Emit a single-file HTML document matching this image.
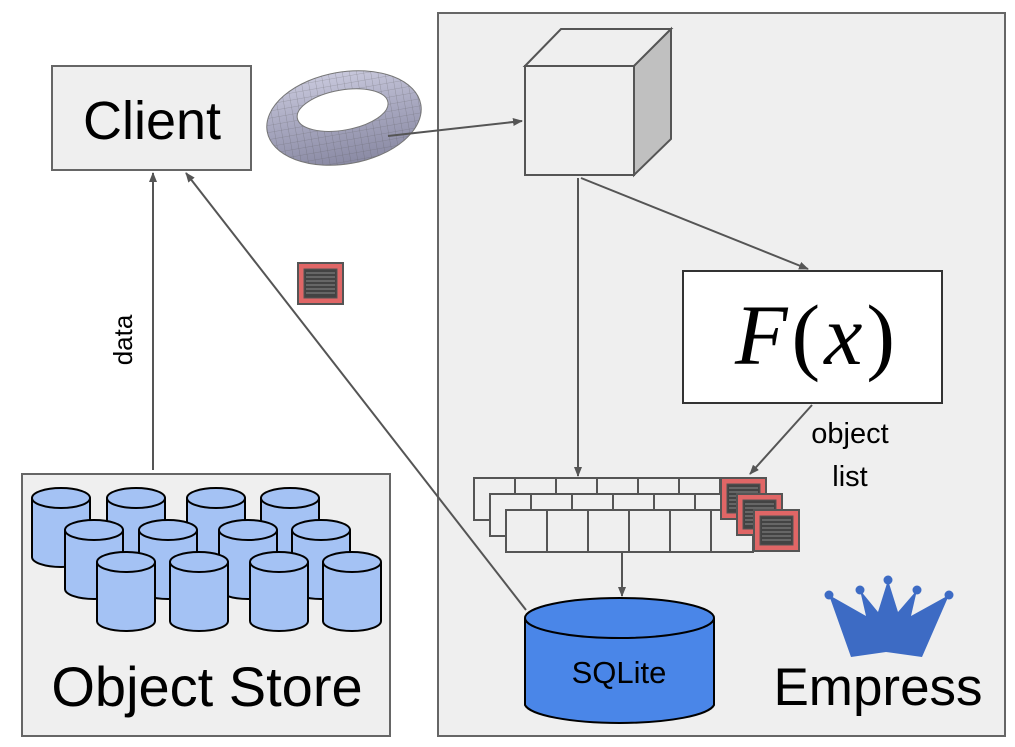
<!DOCTYPE html>
<html><head><meta charset="utf-8"><style>
html,body{margin:0;padding:0;background:#fff;}
svg{display:block;}
</style></head><body>
<svg width="1015" height="747" viewBox="0 0 1015 747" xmlns="http://www.w3.org/2000/svg">
<defs>
<marker id="ah" markerWidth="10" markerHeight="8" refX="9" refY="4" orient="auto" markerUnits="userSpaceOnUse">
<path d="M0,0 L10,4 L0,8 z" fill="#555"/>
</marker>
<linearGradient id="tg" x1="0" y1="0" x2="0" y2="1">
<stop offset="0" stop-color="#c8c8dc"/><stop offset="0.5" stop-color="#a6a6be"/><stop offset="1" stop-color="#8a8aa4"/>
</linearGradient>
<pattern id="grid" width="7" height="7" patternUnits="userSpaceOnUse">
<path d="M0,0 L0,7 M0,0 L7,0" stroke="#555" stroke-width="0.6" opacity="0.6"/>
</pattern>
<g id="cyl">
<path d="M0,10 L0,69 A29,10 0 0 0 58,69 L58,10" fill="#a4c2f4" stroke="#000" stroke-width="2"/>
<ellipse cx="29" cy="10" rx="29" ry="10" fill="#a4c2f4" stroke="#000" stroke-width="2"/>
</g>
<g id="redic">
<rect x="1" y="1" width="45" height="41" fill="#e06666" stroke="#555" stroke-width="2"/>
<rect x="7" y="7" width="33" height="29" fill="#434343" stroke="#555" stroke-width="1"/>
<path d="M9,11H38M9,15H38M9,19H38M9,23H38M9,27H38M9,31H38" stroke="#888" stroke-width="1"/>
</g>
</defs>

<rect x="438" y="13" width="567" height="723" fill="#efefef" stroke="#666" stroke-width="2"/>
<rect x="52" y="66" width="199" height="104" fill="#efefef" stroke="#666" stroke-width="2"/>
<text x="152" y="139" font-family="Liberation Sans, sans-serif" font-size="54" text-anchor="middle" fill="#000">Client</text>
<rect x="22" y="474" width="368" height="262" fill="#efefef" stroke="#666" stroke-width="2"/>
<use href="#cyl" x="32" y="488"/><use href="#cyl" x="107" y="488"/><use href="#cyl" x="187" y="488"/><use href="#cyl" x="261" y="488"/>
<use href="#cyl" x="65" y="520"/><use href="#cyl" x="139" y="520"/><use href="#cyl" x="219" y="520"/><use href="#cyl" x="292" y="520"/>
<use href="#cyl" x="97" y="552"/><use href="#cyl" x="170" y="552"/><use href="#cyl" x="250" y="552"/><use href="#cyl" x="323" y="552"/>
<text x="207" y="706" font-family="Liberation Sans, sans-serif" font-size="56" text-anchor="middle" fill="#000">Object Store</text>

<g transform="rotate(-10 344 118)">
<ellipse cx="344" cy="118" rx="78" ry="46" fill="url(#tg)" stroke="#777"/>
<ellipse cx="344" cy="118" rx="78" ry="46" fill="url(#grid)"/>
<ellipse cx="344" cy="110" rx="46" ry="20" fill="#fff" stroke="#777"/>
</g>
<polygon points="525,66 561,29 671,29 634,66" fill="#efefef" stroke="#555" stroke-width="2"/>
<polygon points="634,66 671,29 671,139 634,175" fill="#c0c0c0" stroke="#555" stroke-width="2"/>
<rect x="525" y="66" width="109" height="109" fill="#efefef" stroke="#555" stroke-width="2"/>

<rect x="683" y="271" width="259" height="132" fill="#fff" stroke="#333" stroke-width="2"/>
<text x="817" y="364" font-family="Liberation Serif, serif" font-size="86" text-anchor="middle" letter-spacing="4" fill="#000"><tspan font-style="italic">F</tspan>(<tspan font-style="italic">x</tspan>)</text>

<g stroke="#555" stroke-width="2" fill="#efefef">
<rect x="474" y="478" width="246" height="42"/>
<path d="M515,478V494M556,478V494M597,478V494M638,478V494M679,478V494" fill="none"/>
<rect x="490" y="494" width="246" height="42"/>
<path d="M531,494V510M572,494V510M613,494V510M654,494V510M695,494V510" fill="none"/>
<rect x="506" y="510" width="247" height="42"/>
<path d="M547,510V552M588,510V552M629,510V552M670,510V552M711,510V552" fill="none"/>
</g>
<use href="#redic" x="720" y="477"/>
<use href="#redic" x="736" y="493"/>
<use href="#redic" x="753" y="509"/>
<use href="#redic" x="297" y="262"/>

<path d="M525,618 L525,705 A95,20 0 0 0 714,705 L714,618" fill="#4a86e8" stroke="#000" stroke-width="2"/>
<ellipse cx="619.5" cy="618" rx="94.5" ry="20" fill="#4a86e8" stroke="#000" stroke-width="2"/>
<text x="619" y="683" font-family="Liberation Sans, sans-serif" font-size="31" text-anchor="middle" fill="#000">SQLite</text>

<polygon points="829,595 866,616 860,590 878,612 888,580 898,612 917,590 911,616 949,595 922,657 886,652 851,657" fill="#3d6bc4"/>
<circle cx="829" cy="595" r="4.5" fill="#3d6bc4"/><circle cx="860" cy="590" r="4.5" fill="#3d6bc4"/><circle cx="888" cy="580" r="4.5" fill="#3d6bc4"/><circle cx="917" cy="590" r="4.5" fill="#3d6bc4"/><circle cx="949" cy="595" r="4.5" fill="#3d6bc4"/>
<text x="878" y="705" font-family="Liberation Sans, sans-serif" font-size="53" text-anchor="middle" fill="#000">Empress</text>

<g stroke="#555" stroke-width="2" fill="none" marker-end="url(#ah)">
<line x1="153" y1="470" x2="153" y2="173"/>
<line x1="526" y1="610" x2="186" y2="173"/>
<line x1="388" y1="136" x2="522" y2="121"/>
<line x1="578" y1="178" x2="578" y2="476"/>
<line x1="581" y1="178" x2="808" y2="269"/>
<line x1="812" y1="405" x2="750" y2="474"/>
<line x1="622" y1="553" x2="622" y2="596"/>
</g>

<text transform="translate(132,340) rotate(-90)" font-family="Liberation Sans, sans-serif" font-size="26" text-anchor="middle" fill="#000">data</text>
<text x="850" y="443" font-family="Liberation Sans, sans-serif" font-size="29" text-anchor="middle" fill="#000">object</text>
<text x="850" y="486" font-family="Liberation Sans, sans-serif" font-size="29" text-anchor="middle" fill="#000">list</text>
</svg>
</body></html>
